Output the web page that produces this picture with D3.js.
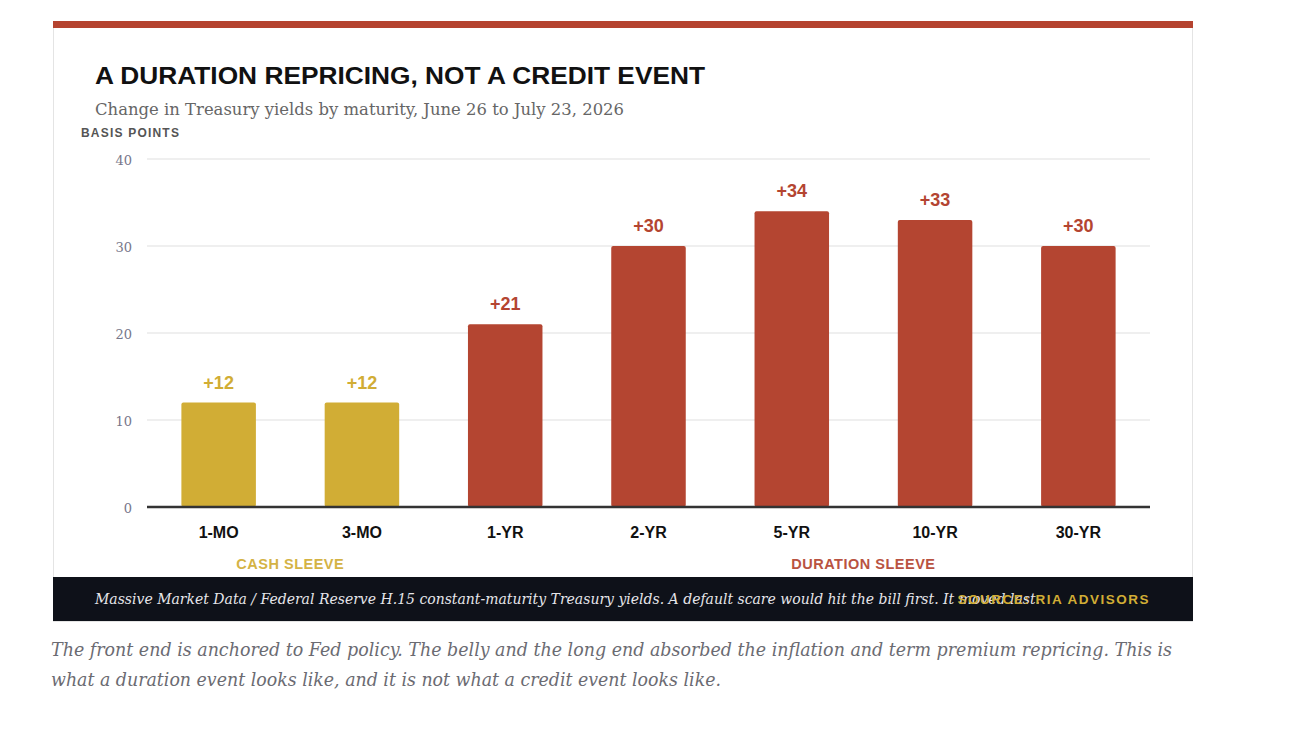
<!DOCTYPE html>
<html>
<head>
<meta charset="utf-8">
<script src="https://cdn.jsdelivr.net/npm/d3@7"></script>
<style>
  body { margin: 0; background: #fff; }
  svg { display: block; }
</style>
</head>
<body>
<svg id="chart" width="1302" height="742"></svg>
<script>
var categories = ['1-MO', '3-MO', '1-YR', '2-YR', '5-YR', '10-YR', '30-YR'],
    values = [12, 12, 21, 30, 34, 33, 30],
    sleeve = ['cash', 'cash', 'duration', 'duration', 'duration', 'duration', 'duration'],
    yTicks = [0, 10, 20, 30, 40];

var sleeves = [
    { name: 'CASH SLEEVE', from: '1-MO', to: '3-MO', key: 'cash' },
    { name: 'DURATION SLEEVE', from: '2-YR', to: '30-YR', key: 'duration' }
];

var colors = { cash: '#d1ad35', duration: '#b44531' };

var svg = d3.select('#chart');

// card
svg.append('rect')
    .attr('x', 53.5).attr('y', 21.5)
    .attr('width', 1139).attr('height', 600)
    .attr('fill', '#fff')
    .attr('stroke', '#e4e4e4');

svg.append('rect')
    .attr('x', 53).attr('y', 21)
    .attr('width', 1140).attr('height', 7)
    .attr('fill', '#b5432f');

svg.append('text')
    .attr('x', 95).attr('y', 84)
    .attr('font-family', 'Liberation Sans, Arial, sans-serif')
    .attr('font-weight', 'bold')
    .attr('font-size', 23)
    .attr('fill', '#111')
    .attr('textLength', 610)
    .attr('lengthAdjust', 'spacingAndGlyphs')
    .text('A DURATION REPRICING, NOT A CREDIT EVENT');

svg.append('text')
    .attr('x', 95).attr('y', 115)
    .attr('font-family', 'Georgia, DejaVu Serif, serif')
    .attr('font-size', 17)
    .attr('fill', '#666')
    .attr('textLength', 529)
    .attr('lengthAdjust', 'spacingAndGlyphs')
    .text('Change in Treasury yields by maturity, June 26 to July 23, 2026');

svg.append('text')
    .attr('x', 81).attr('y', 137)
    .attr('font-family', 'Liberation Sans, Arial, sans-serif')
    .attr('font-weight', 'bold')
    .attr('font-size', 12)
    .attr('letter-spacing', 1.2)
    .attr('fill', '#555')
    .text('BASIS POINTS');

var x = d3.scaleBand()
    .domain(categories)
    .range([147, 1150])
    .paddingInner(0.48)
    .paddingOuter(0.24);

var y = d3.scaleLinear()
    .domain([0, 40])
    .range([507, 159]);

// grid
svg.append('g').selectAll('line')
    .data(yTicks.filter(d => d > 0))
    .enter().append('line')
    .attr('x1', 147).attr('x2', 1150)
    .attr('y1', d => y(d)).attr('y2', d => y(d))
    .attr('stroke', '#efefef')
    .attr('stroke-width', 2);

var yAxis = d3.axisLeft(y).tickValues(yTicks).tickSize(0).tickPadding(0);
var gy = svg.append('g')
    .attr('transform', 'translate(132,0)')
    .call(yAxis);
gy.select('.domain').remove();
gy.selectAll('text')
    .attr('font-family', 'Georgia, DejaVu Serif, serif')
    .attr('font-size', 13)
    .attr('fill', '#77778a')
    .attr('dy', '0.45em');

var data = categories.map((c, i) => ({ cat: c, value: values[i], sleeve: sleeve[i] }));

svg.append('g').selectAll('rect')
    .data(data)
    .enter().append('rect')
    .attr('x', d => x(d.cat))
    .attr('y', d => y(d.value))
    .attr('width', x.bandwidth())
    .attr('height', d => y(0) - y(d.value))
    .attr('rx', 2)
    .attr('fill', d => colors[d.sleeve]);

svg.append('g').selectAll('text')
    .data(data)
    .enter().append('text')
    .attr('x', d => x(d.cat) + x.bandwidth() / 2)
    .attr('y', d => y(d.value) - 14)
    .attr('text-anchor', 'middle')
    .attr('font-family', 'Liberation Sans, Arial, sans-serif')
    .attr('font-weight', 'bold')
    .attr('font-size', 18)
    .attr('fill', d => colors[d.sleeve])
    .text(d => '+' + d.value);

// baseline
svg.append('line')
    .attr('x1', 147).attr('x2', 1150)
    .attr('y1', y(0)).attr('y2', y(0))
    .attr('stroke', '#333')
    .attr('stroke-width', 2.5);

var xAxis = d3.axisBottom(x).tickSize(0).tickPadding(0);
var gx = svg.append('g')
    .attr('transform', 'translate(0,' + (y(0) + 31) + ')')
    .call(xAxis);
gx.select('.domain').remove();
gx.selectAll('text')
    .attr('dy', 0)
    .attr('font-family', 'Liberation Sans Narrow, Liberation Sans, Arial, sans-serif')
    .attr('font-weight', 'bold')
    .attr('font-size', 16)
    .attr('fill', '#111');

svg.append('g').selectAll('text')
    .data(sleeves)
    .enter().append('text')
    .attr('x', d => (x(d.from) + x(d.to) + x.bandwidth()) / 2)
    .attr('y', 569)
    .attr('text-anchor', 'middle')
    .attr('font-family', 'Liberation Sans, Arial, sans-serif')
    .attr('font-weight', 'bold')
    .attr('font-size', 14.5)
    .attr('letter-spacing', 0.5)
    .attr('fill', d => colors[d.key])
    .attr('opacity', 0.92)
    .text(d => d.name);

// footer
svg.append('rect')
    .attr('x', 53).attr('y', 577)
    .attr('width', 1140).attr('height', 44)
    .attr('fill', '#0e1119');

svg.append('text')
    .attr('x', 95).attr('y', 604)
    .attr('font-family', 'Georgia, DejaVu Serif, serif')
    .attr('font-style', 'italic')
    .attr('font-size', 14)
    .attr('fill', '#e6e6ea')
    .attr('textLength', 945)
    .attr('lengthAdjust', 'spacingAndGlyphs')
    .text('Massive Market Data / Federal Reserve H.15 constant-maturity Treasury yields. A default scare would hit the bill first. It moved last.');

svg.append('text')
    .attr('x', 1150).attr('y', 604)
    .attr('text-anchor', 'end')
    .attr('font-family', 'Liberation Sans, Arial, sans-serif')
    .attr('font-weight', 'bold')
    .attr('font-size', 13.5)
    .attr('letter-spacing', 1.5)
    .attr('fill', '#d1ad35')
    .text('SOURCE: RIA ADVISORS');

// caption
var caption = [
    'The front end is anchored to Fed policy. The belly and the long end absorbed the inflation and term premium repricing. This is',
    'what a duration event looks like, and it is not what a credit event looks like.'
];
var capW = [1121, 670];
svg.append('g').selectAll('text')
    .data(caption)
    .enter().append('text')
    .attr('x', 51)
    .attr('y', (d, i) => 656 + i * 30)
    .attr('font-family', 'Georgia, DejaVu Serif, serif')
    .attr('font-style', 'italic')
    .attr('font-size', 18)
    .attr('fill', '#6b6b72')
    .attr('textLength', (d, i) => capW[i])
    .attr('lengthAdjust', 'spacingAndGlyphs')
    .text(d => d);
</script>
</body>
</html>
